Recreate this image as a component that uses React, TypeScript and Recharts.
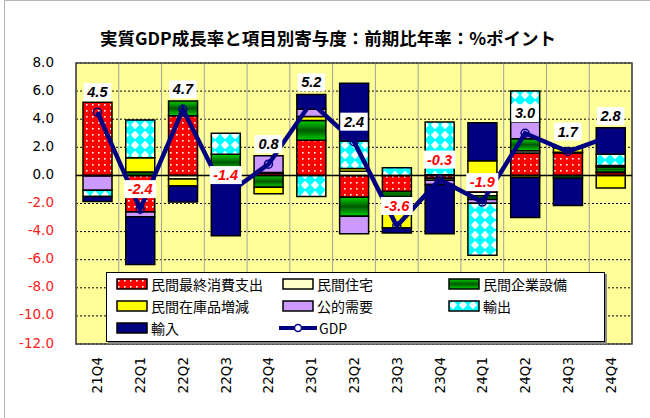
import {
  Bar,
  CartesianGrid,
  ComposedChart,
  LabelList,
  Legend,
  Line,
  ReferenceArea,
  ReferenceLine,
  XAxis,
  YAxis,
} from 'recharts';

// 四半期
const quarters = ['21Q4', '22Q1', '22Q2', '22Q3', '22Q4', '23Q1', '23Q2', '23Q3', '23Q4', '24Q1', '24Q2', '24Q3', '24Q4'];

// 寄与度 (%ポイント)
const consumption = [5.2, -2.6, 4.25, 0.35, 0.15, 2.5, -1.55, -1.15, -0.2, -1.2, 1.6, 1.6, 0.2];
const housing = [-0.05, 0, -0.25, 0, 0.05, 0, 0.3, 0, 0.05, -0.25, 0.15, 0.05, 0.05];
const business = [0, 0.25, 1.05, 1.15, -0.85, 1.4, -1.35, -0.35, 0, -0.26, 0.85, -0.2, 0.35];
const inventory = [0, 1.0, -0.5, 0, -0.45, 0.3, 0.2, -2.25, -0.15, 1.05, -0.15, 0.3, -0.9];
const publicDemand = [-1.0, -0.35, 0, 0, 1.2, 0.5, -1.25, 0, -0.3, -0.28, 1.2, 0, 0.1];
const exportsC = [-0.45, 2.7, 0, 1.5, 0, -1.5, 1.95, 0.55, 3.75, -3.7, 2.2, 0, 0.8];
const importsC = [-0.35, -3.4, -1.15, -4.3, 0, 1.05, 4.1, -0.35, -3.5, 2.7, -2.85, -1.95, 1.9];
const gdp = [4.5, -2.4, 4.7, -1.4, 0.8, 5.2, 2.4, -3.6, -0.3, -1.9, 3.0, 1.7, 2.8];

const yTicks = [8, 6, 4, 2, 0, -2, -4, -6, -8, -10, -12];

const series = [
  { key: 'consumption', name: '民間最終消費支出', fill: 'url(#redDots)', values: consumption },
  { key: 'housing', name: '民間住宅', fill: '#FFFFCC', values: housing },
  { key: 'business', name: '民間企業設備', fill: 'url(#greenGrad)', values: business },
  { key: 'inventory', name: '民間在庫品増減', fill: '#FFFF00', values: inventory },
  { key: 'publicDemand', name: '公的需要', fill: '#CC99FF', values: publicDemand },
  { key: 'exports', name: '輸出', fill: 'url(#cyanDiamonds)', values: exportsC },
  { key: 'imports', name: '輸入', fill: '#000080', values: importsC },
];

const data = quarters.map((q, i) => {
  const row: Record<string, string | number> = { q, gdp: gdp[i] };
  series.forEach((s) => (row[s.key] = s.values[i]));
  return row;
});

const tickFont = 'DejaVu Sans, Verdana, sans-serif';
const jpFont = '"Noto Sans CJK JP", sans-serif';

function YTick({ x, y, payload }: any) {
  const v = Number(payload.value);
  return (
    <text x={x} y={y} dy={-1.5} textAnchor="end" dominantBaseline="central" fontFamily={tickFont} fontSize={13.5} fill={v < 0 ? '#FF2020' : '#000'}>
      {v.toFixed(1)}
    </text>
  );
}

function XTick({ x, y, payload }: any) {
  return (
    <text
      transform={`translate(${x},${y}) rotate(-90)`}
      textAnchor="end"
      dominantBaseline="central"
      fontFamily={tickFont}
      fontSize={13.5}
      fill="#000"
    >
      {payload.value}
    </text>
  );
}

function GdpLabel({ x, y, value }: any) {
  const v = Number(value);
  const text = v.toFixed(1);
  const w = 8 + 14 * (0.556 * (text.replace(/[-.]/g, '').length) + 0.278 + (v < 0 ? 0.333 : 0));
  const cy = y - 20;
  return (
    <g>
      <rect x={x - w / 2} y={cy - 9} width={w} height={18} fill="#fff" />
      <text
        x={x}
        y={cy}
        textAnchor="middle"
        dominantBaseline="central"
        fontFamily="Liberation Sans, Arial, sans-serif"
        fontWeight="bold"
        fontStyle="italic"
        fontSize={14.5}
        fill={v < 0 ? '#FF0000' : '#000'}
      >
        {text}
      </text>
    </g>
  );
}

const legendCols = [9, 175, 341];
const legendRows = [11, 33, 55];

function LegendBox() {
  const items: { name: string; fill?: string; line?: boolean }[] = [
    ...series.map((s) => ({ name: s.name, fill: s.fill })),
    { name: 'GDP', line: true },
  ];
  return (
    <div
      style={{
        position: 'relative',
        width: 497,
        height: 68,
        background: '#fff',
        border: '1px solid #000',
        boxShadow: '2px 2px 0 #888',
      }}
    >
      {items.map((it, i) => {
        const left = legendCols[i % 3];
        const top = legendRows[Math.floor(i / 3)];
        return (
          <div key={it.name} style={{ position: 'absolute', left, top: top - 8, height: 16, display: 'flex', alignItems: 'center' }}>
            {it.line ? (
              <svg width={38} height={12} style={{ marginLeft: -3 }}>
                <line x1={0} y1={6} x2={38} y2={6} stroke="#000080" strokeWidth={4} />
                <circle cx={19} cy={6} r={3.5} fill="#fff" stroke="#000080" strokeWidth={1.5} />
              </svg>
            ) : (
              <svg width={33} height={12}>
                <rect x={1} y={1} width={30} height={10} fill={it.fill} stroke="#000" strokeWidth={1.5} />
              </svg>
            )}
            <span style={{ fontFamily: jpFont, fontSize: 14, lineHeight: '16px', marginLeft: 2, color: '#000', whiteSpace: 'nowrap' }}>
              {it.name}
            </span>
          </div>
        );
      })}
    </div>
  );
}

export default function App() {
  return (
    <div style={{ position: 'absolute', left: 0, top: 0, width: 650, height: 418, background: '#fff', overflow: 'hidden' }}>
      <div
        style={{
          position: 'absolute',
          left: 4,
          top: 0,
          width: 700,
          height: 500,
          borderLeft: '1.5px solid #b4b4b4',
          borderTop: '1.5px solid #b4b4b4',
        }}
      />
      <div
        style={{
          position: 'absolute',
          left: 3,
          top: 28,
          width: 650,
          textAlign: 'center',
          fontFamily: jpFont,
          fontWeight: 'bold',
          fontSize: 17.5,
          lineHeight: '20px',
          color: '#000',
        }}
      >
        実質GDP成長率と項目別寄与度：前期比年率：%ポイント
      </div>
      <ComposedChart
        width={650}
        height={418}
        data={data}
        stackOffset="sign"
        margin={{ top: 63, right: 18, bottom: 0, left: 0 }}
        style={{ position: 'absolute', left: 0, top: 0 }}
      >
        <defs>
          <pattern id="redDots" width={6} height={6} patternUnits="userSpaceOnUse">
            <rect width={6} height={6} fill="#FF0000" />
            <rect x={2} y={2} width={1.6} height={1.6} fill="#fff" />
          </pattern>
          <pattern id="cyanDiamonds" width={10} height={10} patternUnits="userSpaceOnUse">
            <rect width={10} height={10} fill="#00FFFF" />
            <polygon points="5,0.8 9.2,5 5,9.2 0.8,5" fill="#fff" />
          </pattern>
          <linearGradient id="greenGrad" x1="0" y1="0" x2="0" y2="1">
            <stop offset="0%" stopColor="#00d000" />
            <stop offset="50%" stopColor="#005800" />
            <stop offset="100%" stopColor="#00d000" />
          </linearGradient>
        </defs>
        <CartesianGrid vertical={false} stroke="#000" strokeDasharray="2 2" fill="#FFFF99" />
        <CartesianGrid
          horizontal={false}
          stroke="#a0a0a0"
          verticalCoordinatesGenerator={({ offset }: any) =>
            quarters.map((_, i) => offset.left + (i * offset.width) / quarters.length).concat(offset.left + offset.width)
          }
        />
        <XAxis dataKey="q" height={74} axisLine={false} tickLine={false} tickSize={0} tickMargin={13} interval={0} tick={<XTick />} />
        <YAxis
          type="number"
          domain={[-12, 8]}
          ticks={yTicks}
          width={76}
          axisLine={false}
          tickLine={false}
          tickSize={0}
          tickMargin={22}
          interval={0}
          tick={<YTick />}
        />
        <ReferenceArea y1={-12} y2={8} fill="none" stroke="#404040" strokeWidth={1.5} />
        <ReferenceLine y={0} stroke="#000" strokeWidth={1.5} />
        {series.map((s) => (
          <Bar key={s.key} dataKey={s.key} name={s.name} stackId="c" fill={s.fill} stroke="#000" strokeWidth={1.5} barSize={29} isAnimationActive={false} />
        ))}
        <Line
          dataKey="gdp"
          name="GDP"
          type="linear"
          stroke="#000080"
          strokeWidth={4.5}
          dot={{ r: 4, fill: 'none', stroke: '#000080', strokeWidth: 1.5 }}
          isAnimationActive={false}
        >
          <LabelList dataKey="gdp" content={<GdpLabel />} />
        </Line>
        <Legend
          layout="horizontal"
          verticalAlign="middle"
          align="center"
          wrapperStyle={{ left: 106, top: 272, width: 499, height: 70 }}
          content={() => <LegendBox />}
        />
      </ComposedChart>
    </div>
  );
}
